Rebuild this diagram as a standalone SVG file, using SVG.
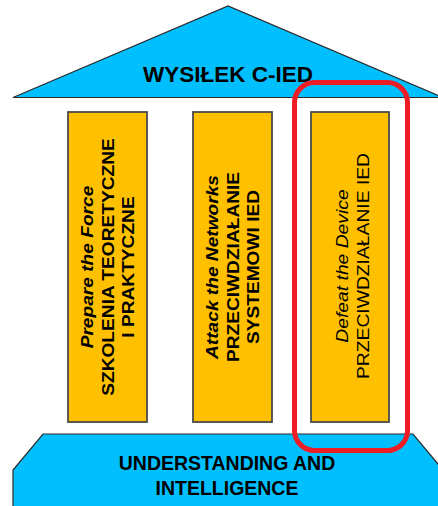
<svg xmlns="http://www.w3.org/2000/svg" width="438" height="506" viewBox="0 0 438 506">
<style>
.blue{fill:#00BFFF;stroke:#2a2a2a;stroke-width:1.2}
.pillar{fill:#FFC000;stroke:#4a4a4a;stroke-width:1.8}
.t{font-family:"Liberation Sans",Arial,sans-serif;fill:#000;text-anchor:middle}
.big{font-size:22.5px;font-weight:bold}
.base{font-size:19.5px;font-weight:bold}
.p{font-size:16.5px}
.b{font-weight:bold}
.i{font-style:italic}
</style>
<rect width="438" height="506" fill="#fff"/>
<g id="roof">
<polygon class="blue" points="13,97.5 228,6 443,97.5"/>
<text class="t big" x="228" y="82">WYSIŁEK C-IED</text>
</g>
<g id="pillar1">
<rect class="pillar" x="68" y="112" width="79" height="310"/>
<g transform="translate(107.5,267) rotate(-90) scale(1.16,1)">
<text class="t p b i" x="0" y="-14.5">Prepare the Force</text>
<text class="t p b" x="0" y="6">SZKOLENIA TEORETYCZNE</text>
<text class="t p b" x="0" y="26.5">I PRAKTYCZNE</text>
</g>
</g>
<g id="pillar2">
<rect class="pillar" x="193" y="112" width="79" height="310"/>
<g transform="translate(232.5,267) rotate(-90) scale(1.16,1)">
<text class="t p b i" x="0" y="-14.5">Attack the Networks</text>
<text class="t p b" x="0" y="6">PRZECIWDZIAŁANIE</text>
<text class="t p b" x="0" y="26.5">SYSTEMOWI IED</text>
</g>
</g>
<g id="pillar3">
<rect class="pillar" x="311" y="112" width="78" height="310"/>
<g transform="translate(350,266) rotate(-90) scale(1.17,1)">
<text class="t p i" x="0" y="-2.5">Defeat the Device</text>
<text class="t p" x="0" y="19.5">PRZECIWDZIAŁANIE IED</text>
</g>
</g>
<g id="foundation">
<polygon class="blue" points="43,434 413,434 443,470 443,510 13,510 13,470"/>
<text class="t base" x="227" y="470" transform="translate(0,-37.6) scale(1,1.08)">UNDERSTANDING AND</text>
<text class="t base" x="227" y="495" transform="translate(0,-39.6) scale(1,1.08)">INTELLIGENCE</text>
</g>
<g id="connectors"></g>
<g id="highlight">
<rect x="294.5" y="82.5" width="113" height="368" rx="20" ry="20" fill="none" stroke="#EE1C25" stroke-width="5"/>
</g>
</svg>
